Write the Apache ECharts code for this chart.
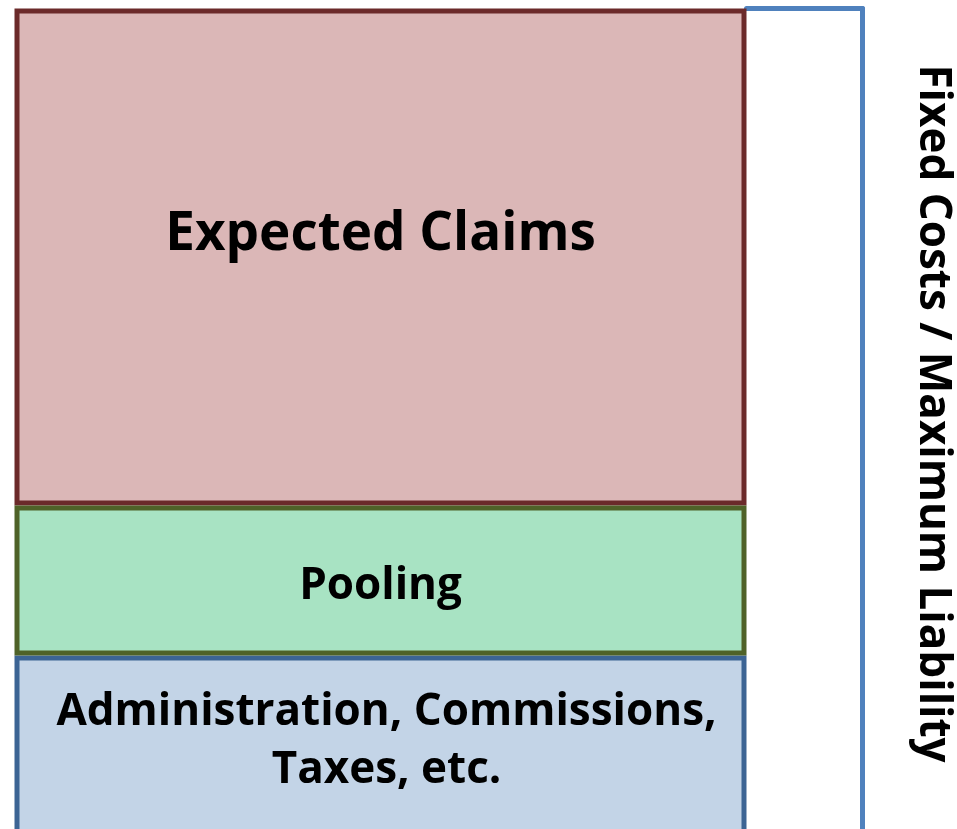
<!DOCTYPE html>
<html>
<head>
<meta charset="utf-8">
<script src="https://cdn.jsdelivr.net/npm/echarts@6/dist/echarts.min.js"></script>
<style>
html,body{margin:0;padding:0;background:#fff;}
#main{width:957px;height:829px;}
</style>
</head>
<body>
<div id="main"></div>
<script>
// one stacked column, parts of the premium
var cats = ['Premium'];
var adminVals = [185];
var poolVals = [150];
var claimVals = [497];
var labels = ['Administration, Commissions,\nTaxes, etc.', 'Pooling', 'Expected Claims'];
var sideName = 'Fixed Costs / Maximum Liability';

var font = 'Open Sans';
var myChart = echarts.init(document.getElementById('main'));
myChart.setOption({
    animation: false,
    grid: [
        // bottom of the column runs off the picture
        {left: 14.5, right: 210.5, top: 8.5, bottom: -11.5, outerBoundsMode: 'none'},
        {left: 746.5, right: 94.5, top: 8.5, bottom: -11.5, outerBoundsMode: 'none'}
    ],
    xAxis: [
        {type: 'category', data: cats, gridIndex: 0, show: false},
        {
            type: 'value', gridIndex: 1, position: 'top', min: 0, max: 1,
            axisLine: {show: true, onZero: false, lineStyle: {color: '#4f81bd', width: 5}},
            axisTick: {show: false}, axisLabel: {show: false}, splitLine: {show: false}
        }
    ],
    yAxis: [
        {type: 'value', gridIndex: 0, min: 0, max: 832, show: false},
        {
            type: 'value', gridIndex: 1, position: 'right', min: 0, max: 1,
            axisLine: {show: true, onZero: false, lineStyle: {color: '#4f81bd', width: 5}},
            axisTick: {show: false}, axisLabel: {show: false}, splitLine: {show: false},
            name: sideName,
            nameLocation: 'middle',
            nameRotate: -90,
            nameGap: 48,
            nameTextStyle: {fontFamily: font, fontWeight: 'bold', fontSize: 44, color: '#000',
                padding: [0, 22, 0, 0]}
        }
    ],
    series: [
        {
            name: 'admin', type: 'bar', stack: 'p', data: adminVals, barWidth: 732, z: 2,
            itemStyle: {color: '#c3d4e7', borderColor: '#3c6494', borderWidth: 5},
            label: {show: true, position: 'inside', offset: [6, -7], formatter: labels[0],
                fontFamily: font, fontWeight: 'bold', fontSize: 44, color: '#000', lineHeight: 58}
        },
        {
            name: 'pool', type: 'bar', stack: 'p', data: poolVals, barWidth: 732, z: 4,
            itemStyle: {color: '#a8e3c3', borderColor: '#4f6228', borderWidth: 5},
            label: {show: true, position: 'inside', offset: [0, 6], formatter: labels[1],
                fontFamily: font, fontWeight: 'bold', fontSize: 44, color: '#000'}
        },
        {
            name: 'claims', type: 'bar', stack: 'p', data: claimVals, barWidth: 732, z: 3,
            itemStyle: {color: '#dbb7b7', borderColor: '#6b2a2a', borderWidth: 5},
            label: {show: true, position: 'inside', offset: [0, -22], formatter: labels[2],
                fontFamily: font, fontWeight: 'bold', fontSize: 53, color: '#000'}
        }
    ]
});
</script>
</body>
</html>
